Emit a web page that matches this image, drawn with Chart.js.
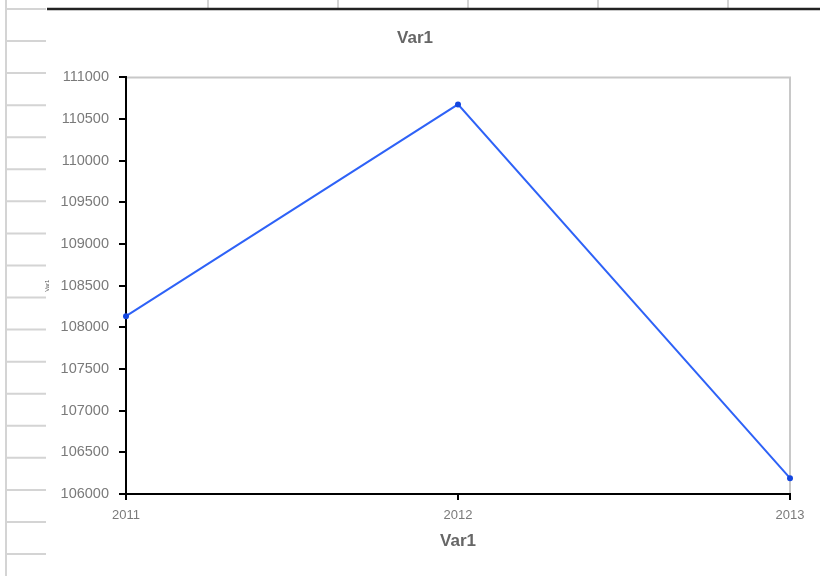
<!DOCTYPE html>
<html>
<head>
<meta charset="utf-8">
<script src="https://cdn.jsdelivr.net/npm/chart.js"></script>
<style>
  body { margin: 0; background: #fff; }
  canvas { display: block; }
</style>
</head>
<body>
<canvas id="myChart" width="820" height="576"></canvas>
<script>
const years = ["2011", "2012", "2013"];
const var1Values = [108134, 110676, 106190];
const yMin = 106000;
const yMax = 111000;
const yStep = 500;

// spreadsheet cells behind the chart + light frame on top/right of plot
const sheetBackground = {
  id: "sheetBackground",
  beforeDraw(chart) {
    const ctx = chart.ctx;
    const area = chart.chartArea;
    ctx.save();
    ctx.fillStyle = "#fff";
    ctx.fillRect(0, 0, chart.width, chart.height);

    ctx.strokeStyle = "#d4d4d4";
    ctx.lineWidth = 2;
    ctx.beginPath();
    ctx.moveTo(6, 0);
    ctx.lineTo(6, chart.height);
    for (let y = 9; y < chart.height; y += 32.06) {
      ctx.moveTo(6, y);
      ctx.lineTo(46, y);
    }
    for (let x = 208; x < chart.width; x += 130) {
      ctx.moveTo(x, 0);
      ctx.lineTo(x, 9);
    }
    ctx.stroke();

    ctx.strokeStyle = "#222";
    ctx.lineWidth = 2.5;
    ctx.beginPath();
    ctx.moveTo(47, 9);
    ctx.lineTo(chart.width, 9);
    ctx.stroke();

    ctx.strokeStyle = "#c8c8c8";
    ctx.lineWidth = 2;
    ctx.beginPath();
    ctx.moveTo(area.left, area.top);
    ctx.lineTo(area.right, area.top);
    ctx.lineTo(area.right, area.bottom);
    ctx.stroke();
    ctx.restore();
  },
};

Chart.defaults.font.family = "'Liberation Sans', Arial, sans-serif";

const ctx = document.getElementById("myChart");

new Chart(ctx, {
  type: "line",
  data: {
    labels: years,
    datasets: [
      {
        label: "Var1",
        data: var1Values,
        borderColor: "#2e62f7",
        borderWidth: 2,
        pointRadius: 3,
        pointBackgroundColor: "#1346e0",
        pointBorderColor: "#1346e0",
        pointBorderWidth: 0,
        tension: 0,
        clip: false,
      },
    ],
  },
  options: {
    responsive: false,
    animation: false,
    layout: {
      padding: { left: 40, right: 30, top: 0, bottom: 0 },
    },
    plugins: {
      legend: { display: false },
      tooltip: { enabled: false },
      title: {
        display: true,
        text: "Var1",
        color: "#666",
        font: { size: 17, weight: "bold" },
        padding: { top: 28, bottom: 29 },
      },
    },
    scales: {
      x: {
        type: "category",
        offset: false,
        grid: {
          drawOnChartArea: false,
          color: "#000",
          lineWidth: 2,
          tickLength: 6,
        },
        border: { color: "#000", width: 2 },
        ticks: {
          color: "#7a7a7a",
          font: { size: 13 },
          padding: 8,
          maxRotation: 0,
        },
        title: {
          display: true,
          text: "Var1",
          color: "#666",
          font: { size: 17, weight: "bold" },
          padding: { top: 0, bottom: 24 },
        },
        afterFit: (scale) => {
          scale.height = 82;
        },
      },
      y: {
        min: yMin,
        max: yMax,
        grid: {
          drawOnChartArea: false,
          color: "#000",
          lineWidth: 2,
          tickLength: 7,
        },
        border: { color: "#000", width: 2 },
        ticks: {
          stepSize: yStep,
          color: "#7a7a7a",
          font: { size: 14.5 },
          padding: 10,
          callback: (value) => String(value),
        },
        title: {
          display: true,
          text: "Var1",
          color: "#555",
          font: { size: 6 },
          padding: { top: 4, bottom: 0 },
        },
        afterFit: (scale) => {
          scale.width = 86;
        },
      },
    },
  },
  plugins: [sheetBackground],
});
</script>
</body>
</html>
